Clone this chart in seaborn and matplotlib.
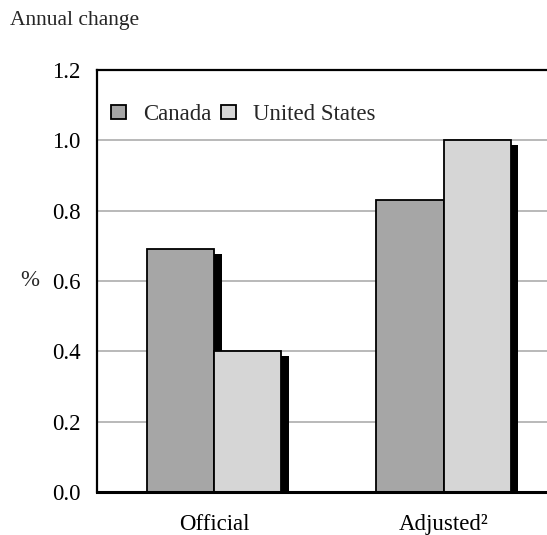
import matplotlib
matplotlib.use("Agg")
import matplotlib.pyplot as plt
import matplotlib.patheffects as pe
from matplotlib.patches import Patch
import pandas as pd
import seaborn as sns

# Data
measures = ["Official", "Adjusted"]
tick_labels = ["Official", "Adjusted\u00b2"]
countries = ["Canada", "United States"]
canada = [0.69, 0.83]
united_states = [0.40, 1.00]
colors = ["#a6a6a6", "#d6d6d6"]
y_ticks = [0.0, 0.2, 0.4, 0.6, 0.8, 1.0, 1.2]

df = pd.DataFrame({
    "measure": measures * 2,
    "country": [countries[0]] * 2 + [countries[1]] * 2,
    "value": canada + united_states,
})

sns.set_style("white")
plt.rcParams["font.family"] = ["Liberation Serif", "DejaVu Serif"]

fig = plt.figure(figsize=(5.47, 5.35), dpi=100)
ax = fig.add_axes([0.1773, 0.0804, 0.8227, 0.7888])

sns.barplot(data=df, x="measure", y="value", hue="country", order=measures,
            hue_order=countries, palette=colors, width=0.585,
            edgecolor="black", linewidth=1.3, legend=False, ax=ax)

# drop shadows behind each bar
for bar in ax.patches:
    bar.set_path_effects([
        pe.SimplePatchShadow(offset=(5.6, -3.2), shadow_rgbFace="black", alpha=1.0),
        pe.Normal(),
    ])

ax.set_ylim(0, 1.2)
ax.set_xlim(-0.51, 1.451)
ax.set_yticks(y_ticks)
ax.set_yticklabels([f"{t:.1f}" for t in y_ticks])
ax.set_xticks(range(len(measures)))
ax.set_xticklabels(tick_labels)
ax.set_xlabel("")
ax.set_ylabel("")

ax.set_axisbelow(True)
ax.yaxis.grid(True, color="#a6a6a6", linewidth=1.1)
ax.xaxis.grid(False)

ax.tick_params(axis="both", length=0, labelsize=16.5, colors="black")
ax.tick_params(axis="y", pad=12)
ax.tick_params(axis="x", pad=16)

for side in ["left", "top"]:
    ax.spines[side].set_visible(True)
    ax.spines[side].set_color("black")
    ax.spines[side].set_linewidth(1.6)
ax.spines["bottom"].set_color("black")
ax.spines["bottom"].set_linewidth(2.2)
ax.spines["right"].set_visible(False)

handles = [Patch(facecolor=c, edgecolor="black", linewidth=1.3) for c in colors]
ax.legend(handles, countries, loc="center left", bbox_to_anchor=(0.032, 0.894),
          ncol=2, frameon=False, fontsize=16.5, handlelength=0.62, handleheight=0.6,
          handletextpad=0.75, columnspacing=0.45, borderpad=0, borderaxespad=0)

fig.text(10 / 547, 1 - 20 / 535, "Annual change", fontsize=15.5, va="center", ha="left")
fig.text(30 / 547, 1 - 281 / 535, "%", fontsize=16.5, va="center", ha="center")

fig.savefig("out.png", dpi=100)
